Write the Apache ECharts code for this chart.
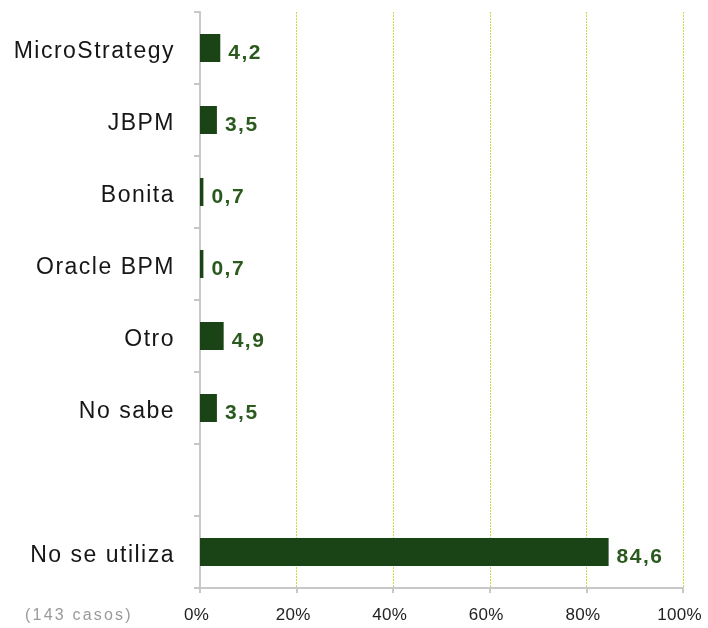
<!DOCTYPE html>
<html><head><meta charset="utf-8">
<script src="https://cdn.jsdelivr.net/npm/echarts@6/dist/echarts.min.js"></script>
<style>html,body{margin:0;padding:0;background:#fff}#c{width:708px;height:628px}</style>
</head><body><div id="c"></div>
<script>
var categories = ['MicroStrategy', 'JBPM', 'Bonita', 'Oracle BPM', 'Otro', 'No sabe', '', 'No se utiliza'];
var values = [4.2, 3.5, 0.7, 0.7, 4.9, 3.5, null, 84.6];
var xTicks = [0, 20, 40, 60, 80, 100];
var note = '(143 casos)';

// widen letter spacing of canvas text to mimic the reference's tracked type
(function () {
  var P = CanvasRenderingContext2D.prototype;
  function spacing(font) {
    var m = /(\d+(?:\.\d+)?)px/.exec(font || '');
    var s = m ? parseFloat(m[1]) : 12;
    if (s >= 20) return '1.5px';
    if (s >= 16.5) return '0.3px';
    if (s >= 15.5) return '2.2px';
    return '0px';
  }
  var f = P.fillText, mt = P.measureText;
  P.fillText = function (t, x, y, w) {
    if ('letterSpacing' in this) this.letterSpacing = spacing(this.font);
    return w === undefined ? f.call(this, t, x, y) : f.call(this, t, x, y, w);
  };
  P.measureText = function (t) {
    if ('letterSpacing' in this) this.letterSpacing = spacing(this.font);
    return mt.call(this, t);
  };
})();

var FONT = '"Liberation Sans", Arial, sans-serif';
var chart = echarts.init(document.getElementById('c'), null, {renderer: 'canvas'});
chart.setOption({
  animation: false,
  grid: {left: 200, right: 25, top: 12, bottom: 40, containLabel: false},
  xAxis: {
    type: 'value', min: xTicks[0], max: xTicks[xTicks.length - 1], interval: 20,
    axisLine: {show: true, lineStyle: {color: '#c8c8c8', width: 2}},
    axisTick: {show: true, length: 5, lineStyle: {color: '#c8c8c8', width: 2}},
    axisLabel: {formatter: '{value}%', color: '#222', fontFamily: FONT, fontSize: 17, margin: 19, padding: [0, 7, 0, 0]},
    splitLine: {show: true, lineStyle: {color: '#bddf45', type: [2, 1], width: 1}}
  },
  yAxis: {
    type: 'category', data: categories, inverse: true,
    axisLine: {show: true, lineStyle: {color: '#c8c8c8', width: 2}},
    axisTick: {show: true, length: 6, lineStyle: {color: '#c8c8c8', width: 2}},
    axisLabel: {color: '#161616', fontFamily: FONT, fontSize: 23, margin: 25, verticalAlign: 'top', lineHeight: 7},
    splitLine: {show: false}
  },
  series: [{
    type: 'bar', data: values, barWidth: 28,
    itemStyle: {color: '#1a4316'},
    label: {
      show: true, position: 'right', distance: 8, offset: [0, 5],
      color: '#2b5a1f', fontFamily: FONT, fontWeight: 'bold', fontSize: 21,
      formatter: function (p) { return p.value == null ? '' : String(p.value).replace('.', ','); }
    }
  }],
  graphic: [{
    type: 'text', left: 25, top: 606,
    style: {text: note, fill: '#9a9a9a', font: '16px "Liberation Sans", Arial, sans-serif'}
  }]
});
</script></body></html>
